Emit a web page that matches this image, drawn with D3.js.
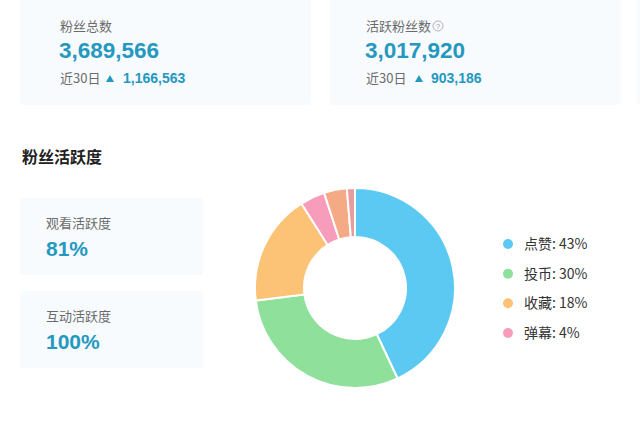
<!DOCTYPE html>
<html>
<head>
<meta charset="utf-8">
<script src="https://cdn.jsdelivr.net/npm/d3@7"></script>
<style>
  body { margin: 0; background: #fff; }
  text { font-family: "Liberation Sans", "Noto Sans CJK SC", sans-serif; }
  .cn { font-family: "Noto Sans CJK SC", "Liberation Sans", sans-serif; }
</style>
</head>
<body>
<div class="chart"></div>
<script>
// DATA ------------------------------
const statLabels = ["粉丝总数", "活跃粉丝数"];
const statValues = [3689566, 3017920];
const statDeltas = [1166563, 903186];

const activityLabels = ["观看活跃度", "互动活跃度"];
const activityValues = [81, 100];

const categories = ["点赞", "投币", "收藏", "弹幕", "分享", "充电"];
const shares = [43, 30, 18, 4, 3.7, 1.3];
const legendCount = 4; // only first four are listed in the legend
const colors = ["#5cc9f2", "#8ee09a", "#fcc275", "#f79dbb", "#f5aa86", "#e99c9c"];

// CHART INIT ------------------------------
const width = 640, height = 421;
const teal = "#2598bf";
const cardFill = "#f7fbfe";
const fmt = d3.format(",");

const svg = d3.select(".chart").append("svg")
    .attr("width", width)
    .attr("height", height);

// top stat cards (text inset differs a little between the two)
const cardX = d3.scaleOrdinal().domain(statLabels).range([20, 330]);
const inset = [40, 36];

svg.append("rect")
    .attr("x", 637).attr("y", -6).attr("width", 20).attr("height", 111)
    .attr("rx", 4).attr("fill", cardFill);

const cards = svg.selectAll(".stat")
    .data(statLabels)
    .enter().append("g")
    .attr("class", "stat")
    .attr("transform", d => "translate(" + cardX(d) + ",0)");

cards.append("rect")
    .attr("x", 0).attr("y", -6)
    .attr("width", 291).attr("height", 111)
    .attr("rx", 4)
    .attr("fill", cardFill);

cards.append("text")
    .attr("class", "cn")
    .attr("x", (d, i) => inset[i]).attr("y", 31)
    .attr("font-size", 13)
    .attr("fill", "#6b6b6b")
    .text(d => d);

cards.append("text")
    .attr("x", (d, i) => inset[i] - 1).attr("y", 58)
    .attr("font-size", 22.5)
    .attr("font-weight", "bold")
    .attr("fill", teal)
    .text((d, i) => fmt(statValues[i]));

cards.append("text")
    .attr("class", "cn")
    .attr("x", (d, i) => inset[i]).attr("y", 83)
    .attr("font-size", 13)
    .attr("fill", "#6b6b6b")
    .text("近30日");

cards.append("path")
    .attr("d", "M86,82 L90,75 L94,82 Z")
    .attr("transform", (d, i) => "translate(" + (inset[i] - 40 + (i ? 3 : 0)) + ",0)")
    .attr("fill", teal);

cards.append("text")
    .attr("x", (d, i) => i ? 101 : 103).attr("y", 83)
    .attr("font-size", 14)
    .attr("font-weight", "bold")
    .attr("fill", teal)
    .text((d, i) => fmt(statDeltas[i]));

// help icon next to 活跃粉丝数
const help = svg.append("g").attr("transform", "translate(438,26)");
help.append("circle").attr("r", 5).attr("fill", "none").attr("stroke", "#aaa").attr("stroke-width", 0.9);
help.append("text").attr("y", 3).attr("text-anchor", "middle")
    .attr("font-size", 8).attr("fill", "#999").text("?");

// section title
svg.append("text")
    .attr("class", "cn")
    .attr("x", 22).attr("y", 163)
    .attr("font-size", 16)
    .attr("font-weight", "bold")
    .attr("fill", "#222")
    .text("粉丝活跃度");

// activity cards
const actY = d3.scaleOrdinal().domain(activityLabels).range([198, 291]);
const act = svg.selectAll(".act")
    .data(activityLabels)
    .enter().append("g")
    .attr("class", "act")
    .attr("transform", d => "translate(20," + actY(d) + ")");

act.append("rect")
    .attr("width", 183).attr("height", 77)
    .attr("rx", 3)
    .attr("fill", cardFill);

act.append("text")
    .attr("class", "cn")
    .attr("x", 26).attr("y", 30)
    .attr("font-size", 13)
    .attr("fill", "#6b6b6b")
    .text(d => d);

act.append("text")
    .attr("x", 26).attr("y", 58)
    .attr("font-size", 21)
    .attr("font-weight", "bold")
    .attr("fill", teal)
    .text((d, i) => activityValues[i] + "%");

// donut
const cx = 355, cy = 288, outerR = 100, innerR = 51;
const pie = d3.pie().sort(null).value(d => d);
const arc = d3.arc().innerRadius(innerR).outerRadius(outerR);
const color = d3.scaleOrdinal().domain(categories).range(colors);

svg.append("g")
    .attr("transform", "translate(" + cx + "," + cy + ")")
  .selectAll("path")
    .data(pie(shares))
    .enter().append("path")
    .attr("d", arc)
    .attr("fill", (d, i) => color(categories[i]))
    .attr("stroke", "#fff")
    .attr("stroke-width", 2);

// legend
const legendY = d3.scalePoint()
    .domain(categories.slice(0, legendCount))
    .range([244, 333]);

const legend = svg.selectAll(".legend")
    .data(categories.slice(0, legendCount))
    .enter().append("g")
    .attr("class", "legend")
    .attr("transform", d => "translate(508," + legendY(d) + ")");

legend.append("circle")
    .attr("r", 5)
    .attr("fill", d => color(d));

legend.append("text")
    .attr("class", "cn")
    .attr("x", 16).attr("y", 5)
    .attr("font-size", 14)
    .attr("fill", "#333")
    .text((d, i) => d + ": " + Math.round(shares[i]) + "%");
</script>
</body>
</html>
